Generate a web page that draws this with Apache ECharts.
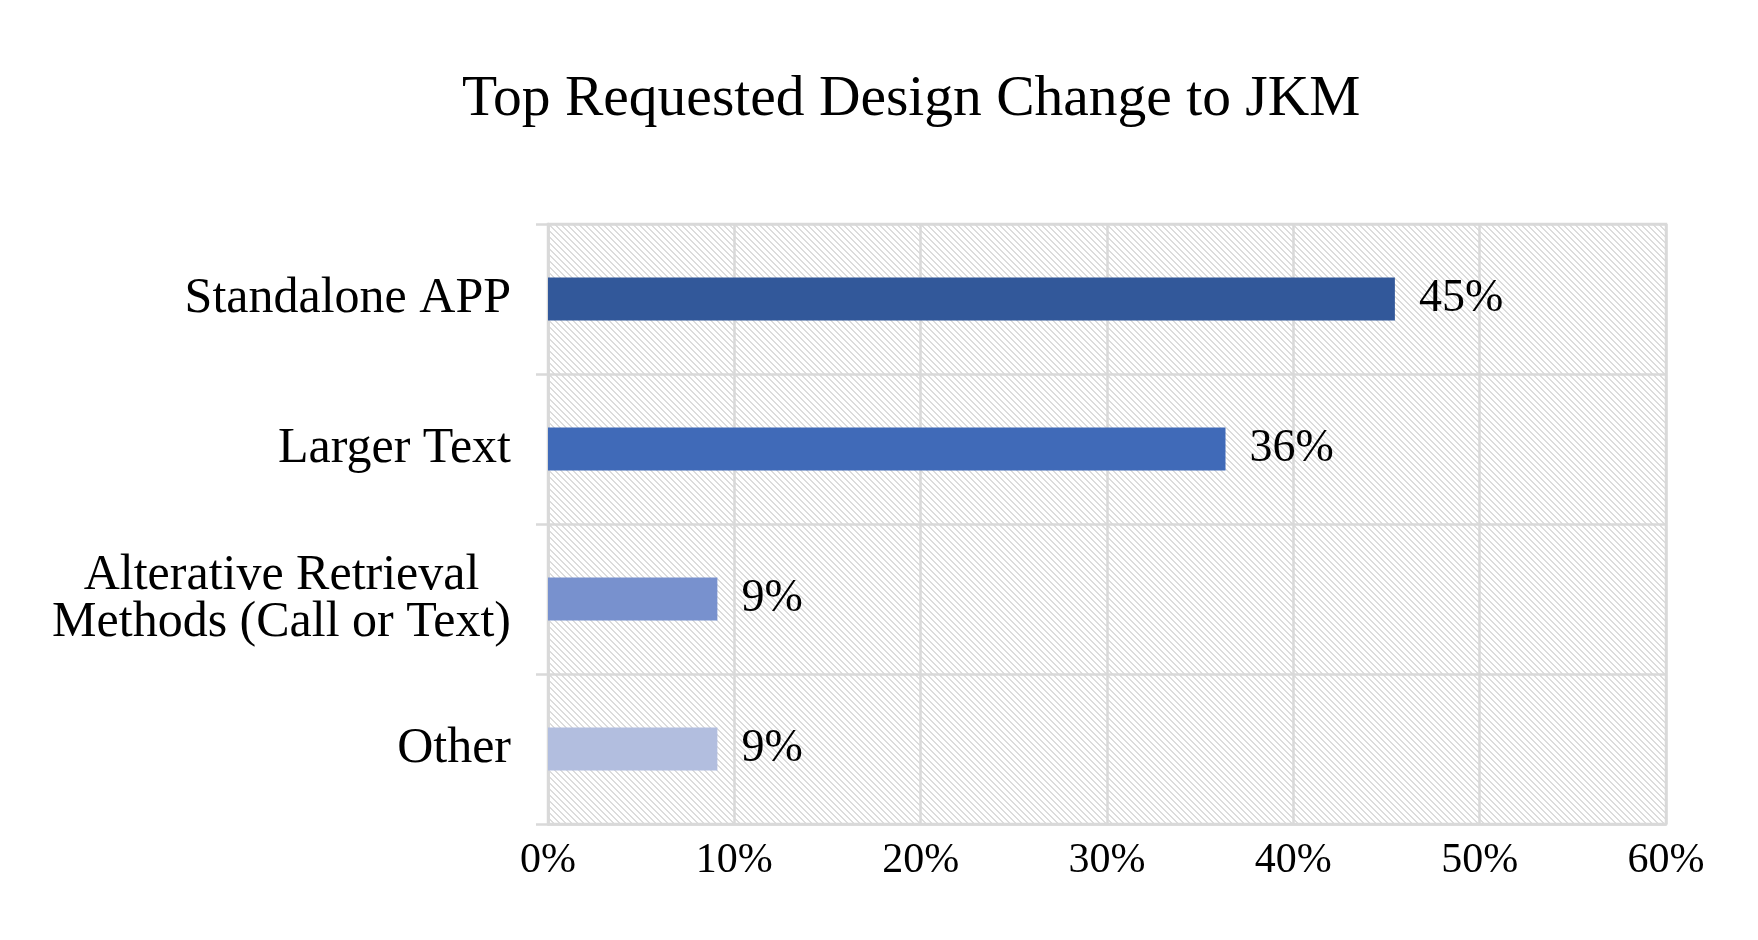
<!DOCTYPE html>
<html>
<head>
<meta charset="utf-8">
<script src="https://cdn.jsdelivr.net/npm/echarts@6/dist/echarts.min.js"></script>
<style>
html,body{margin:0;padding:0;background:#fff;}
#chart{width:1758px;height:940px;}
</style>
</head>
<body>
<div id="chart"></div>
<script>
const titleText = 'Top Requested Design Change to JKM';
const categories = ['Standalone APP', 'Larger Text', 'Alterative Retrieval\nMethods (Call or Text)', 'Other'];
const values = [45.45, 36.36, 9.09, 9.09];
const xTicks = [0, 10, 20, 30, 40, 50, 60];
const barColors = ['#32589A', '#406AB8', '#7891CE', '#B2BEDF'];

// hatch pattern tile
const tile = document.createElement('canvas');
tile.width = 6; tile.height = 6;
const tctx = tile.getContext('2d');
tctx.fillStyle = '#ffffff';
tctx.fillRect(0, 0, 6, 6);
tctx.fillStyle = '#DCDCDC';
for (let y = 0; y < 6; y++) {
  for (let x = 0; x < 6; x++) {
    if ((((x - y) % 6) + 6) % 6 < 2) tctx.fillRect(x, y, 1, 1);
  }
}

const font = 'Liberation Serif, Times New Roman, serif';
const gridColor = '#D9D9D9';
const chart = echarts.init(document.getElementById('chart'));
chart.setOption({
  animation: false,
  backgroundColor: '#ffffff',
  title: {
    text: titleText,
    left: 457,
    top: 66,
    textStyle: { fontFamily: font, fontSize: 57.5, fontWeight: 'normal', color: '#000', lineHeight: 58 }
  },
  grid: {
    left: 548, right: 92, top: 224, bottom: 116,
    show: true,
    backgroundColor: { image: tile, repeat: 'repeat' },
    borderColor: gridColor,
    borderWidth: 2.5
  },
  xAxis: {
    type: 'value',
    min: xTicks[0],
    max: xTicks[xTicks.length - 1],
    interval: xTicks[1] - xTicks[0],
    axisLine: { show: true, lineStyle: { color: gridColor, width: 2.5 } },
    axisTick: { show: false },
    splitLine: { show: true, lineStyle: { color: gridColor, width: 2.5 } },
    axisLabel: {
      formatter: '{value}%',
      margin: 16,
      fontFamily: font, fontSize: 42, color: '#000', lineHeight: 42
    }
  },
  yAxis: {
    type: 'category',
    data: categories,
    inverse: true,
    axisLine: { show: true, lineStyle: { color: gridColor, width: 2.5 } },
    axisTick: { show: true, length: 12, lineStyle: { color: gridColor, width: 2.5 } },
    splitLine: { show: true, lineStyle: { color: gridColor, width: 2.5 } },
    axisLabel: {
      margin: 37,
      fontFamily: font, fontSize: 50, color: '#000',
      formatter: function (v) {
        return v.split('\n').map(function (s) { return '{c|' + s + '}'; }).join('\n');
      },
      rich: {
        c: { align: 'center', fontFamily: font, fontSize: 50, color: '#000', lineHeight: 47 }
      }
    }
  },
  series: [{
    type: 'bar',
    barWidth: 43,
    data: values.map(function (v, i) {
      return { value: v, itemStyle: { color: barColors[i] } };
    }),
    label: {
      show: true,
      position: 'right',
      distance: 24,
      fontFamily: font, fontSize: 46, color: '#000',
      formatter: function (p) { return Math.round(p.value) + '%'; }
    }
  }]
});
</script>
</body>
</html>
